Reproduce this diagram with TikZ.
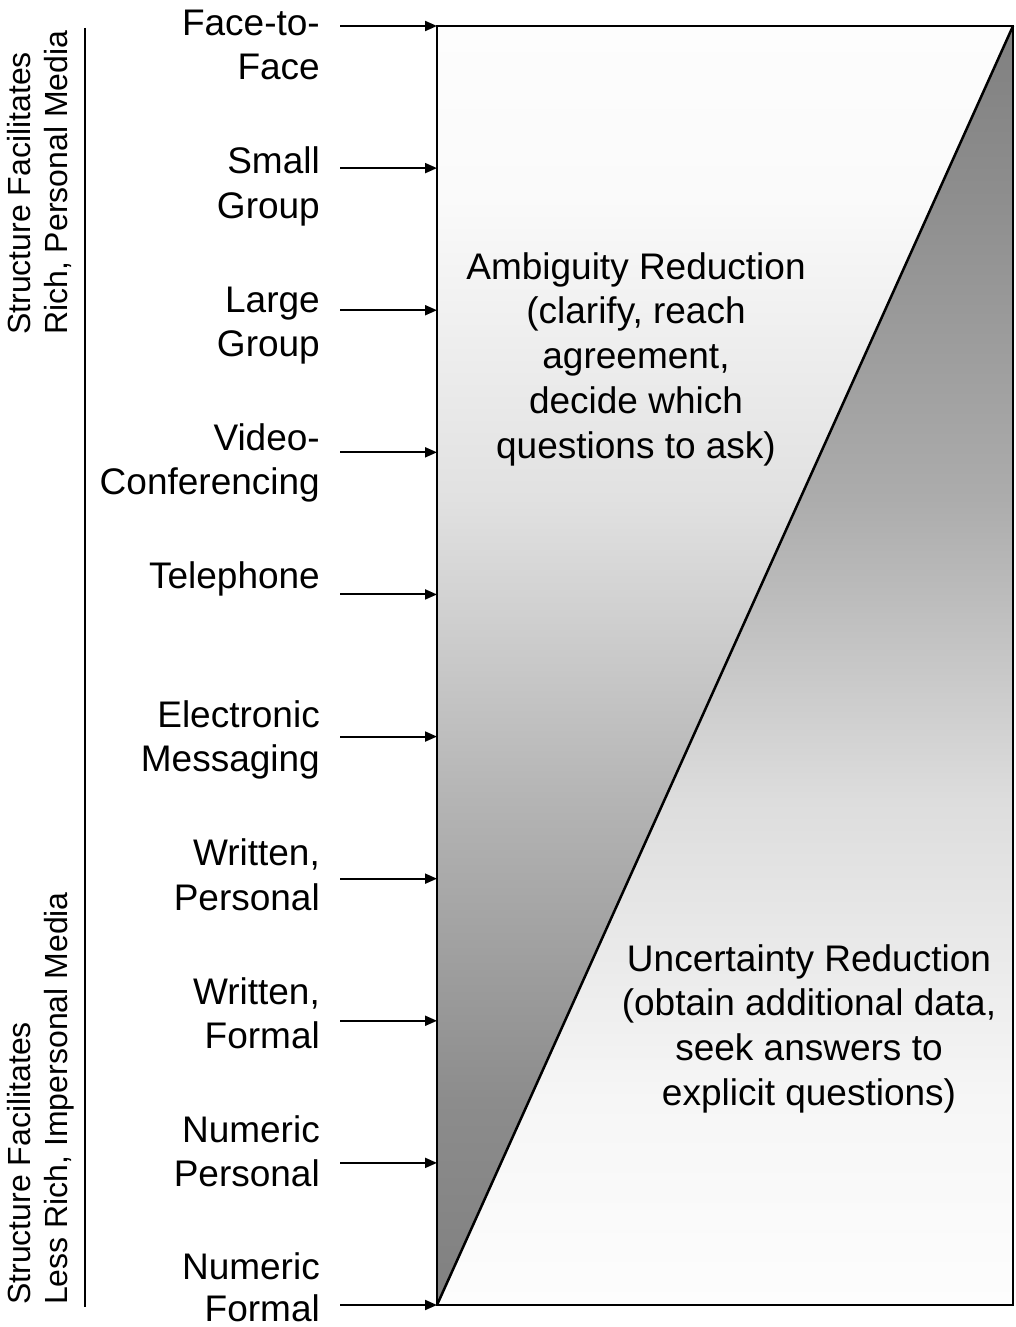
\documentclass[tikz,border=0pt]{standalone}
\usepackage{fontspec}
\setmainfont{Liberation Sans}
\usetikzlibrary{arrows.meta}

% vertical fades for the two triangles (stops between 25bp and 75bp span the path)
\pgfdeclareverticalshading{upperfade}{100bp}{%
  rgb(0bp)=(0.502,0.502,0.502); rgb(25bp)=(0.502,0.502,0.502);
  rgb(33bp)=(0.549,0.549,0.549); rgb(44.7bp)=(0.706,0.706,0.706);
  rgb(56.5bp)=(0.882,0.882,0.882); rgb(68.2bp)=(0.980,0.980,0.980);
  rgb(75bp)=(0.992,0.992,0.992); rgb(100bp)=(0.992,0.992,0.992)}
\pgfdeclareverticalshading{lowerfade}{100bp}{%
  rgb(0bp)=(0.992,0.992,0.992); rgb(25bp)=(0.992,0.992,0.992);
  rgb(33bp)=(0.965,0.965,0.965); rgb(44.7bp)=(0.867,0.867,0.867);
  rgb(56.5bp)=(0.675,0.675,0.675); rgb(68.2bp)=(0.557,0.557,0.557);
  rgb(75bp)=(0.502,0.502,0.502); rgb(100bp)=(0.502,0.502,0.502)}

\begin{document}
\begin{tikzpicture}[x=1pt,y=-1pt,
  medium/.style={anchor=north east, inner sep=0pt, align=right,
    font=\fontsize{37}{44.5}\selectfont},
  blocktext/.style={anchor=north, inner sep=0pt, align=center,
    font=\fontsize{37}{44.75}\selectfont},
  sidetext/.style={anchor=north west, inner sep=0pt, align=left, rotate=90,
    font=\fontsize{32}{37}\selectfont},
  feed/.style={line width=2pt, -{Triangle[length=12pt,width=10pt]}},
  frame/.style={line width=2.5pt, line join=miter}]

\useasboundingbox (0,0) rectangle (1016,1327);

% corners of the task box
\coordinate (tl) at (437,26);
\coordinate (tr) at (1013,26);
\coordinate (bl) at (437,1305);
\coordinate (br) at (1013,1305);

% shaded halves
\path[shading=upperfade] (tl) -- (tr) -- (bl) -- cycle;
\path[shading=lowerfade] (tr) -- (br) -- (bl) -- cycle;

% box and diagonal
\draw[frame] (tl) rectangle (br);
\draw[frame] (bl) -- (tr);

% left rule
\coordinate (ruletop) at (85,28);
\coordinate (rulebot) at (85,1307);
\draw[line width=2pt] (ruletop) -- (rulebot);

% side captions
\node[sidetext] (capA) at (4.1,335) {\strut Structure Facilitates\\Rich, Personal Media};
\node[sidetext] (capB) at (4.1,1305) {\strut Structure Facilitates\\Less Rich, Impersonal Media};

% media labels
\node[medium] (m0) at (320,3.85)   {\strut Face-to-\\Face};
\node[medium] (m1) at (320,142.25) {\strut Small\\Group};
\node[medium] (m2) at (320,280.65) {\strut Large\\Group};
\node[medium] (m3) at (320,419.05) {\strut Video-\\Conferencing};
\node[medium] (m4) at (320,557.45) {\strut Telephone};
\node[medium] (m5) at (320,695.85) {\strut Electronic\\Messaging};
\node[medium] (m6) at (320,834.25) {\strut Written,\\Personal};
\node[medium] (m7) at (320,972.65) {\strut Written,\\Formal};
\node[medium] (m8) at (320,1111.05) {\strut Numeric\\Personal};
\node[medium,font=\fontsize{37}{42.5}\selectfont] (m9) at (320,1249.45) {\strut Numeric\\Formal};

% feed arrows into the box
\foreach \i in {0,...,9}{
  \coordinate (s\i) at (340,26+142.11*\i);
  \coordinate (e\i) at (437,26+142.11*\i);
  \draw[feed] (s\i) -- (e\i);
}

% region texts
\node[blocktext] (amb) at (636,247.7) {\strut Ambiguity Reduction\\(clarify, reach\\agreement,\\decide which\\questions to ask)};
\node[blocktext] (unc) at (809,939.7) {\strut Uncertainty Reduction\\(obtain additional data,\\seek answers to\\explicit questions)};
\end{tikzpicture}
\end{document}
